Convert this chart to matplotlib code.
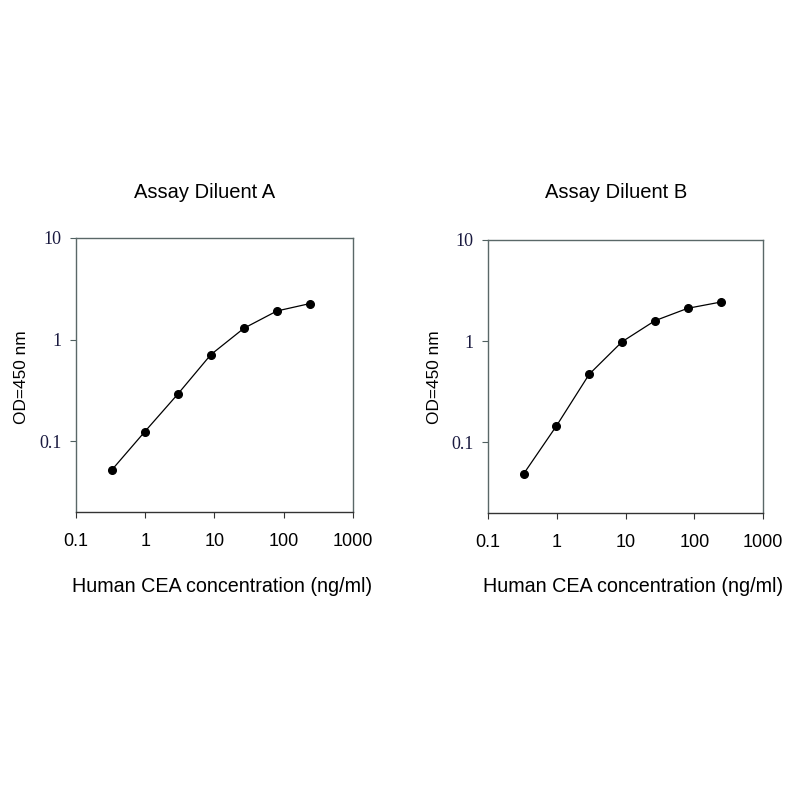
import matplotlib
matplotlib.use("Agg")
import matplotlib.pyplot as plt

conc = [0.33, 0.99, 2.96, 8.89, 26.67, 80, 240]
od_a = [0.052, 0.124, 0.29, 0.71, 1.29, 1.91, 2.26]
od_b = [0.0486, 0.145, 0.47, 0.985, 1.59, 2.11, 2.43]
x_ticks = [0.1, 1, 10, 100, 1000]
x_ticklabels = ["0.1", "1", "10", "100", "1000"]
y_ticks = [0.1, 1, 10]
y_ticklabels = ["0.1", "1", "10"]
titles = ["Assay Diluent A", "Assay Diluent B"]
xlabel = "Human CEA concentration (ng/ml)"
ylabel = "OD=450 nm"

fig = plt.figure(figsize=(8, 8), dpi=100)
sans = "Liberation Sans"
serif = "Liberation Serif"

rects = [[0.095, 0.36, 0.346, 0.3425], [0.61, 0.359, 0.344, 0.341]]
title_x = [205 / 800, 616 / 800]
xlabel_x = [222 / 800, 633 / 800]
ylabel_x = [22 / 800, 435 / 800]

for i, (rect, od) in enumerate(zip(rects, [od_a, od_b])):
    ax = fig.add_axes(rect)
    ax.plot(conc, od, color="black", lw=0.9, marker="o", ms=5.5,
            markerfacecolor="black", markeredgecolor="black")
    ax.set_xscale("log")
    ax.set_yscale("log")
    ax.set_xlim(0.1, 1000)
    ax.set_ylim(0.02, 10)
    ax.minorticks_off()
    ax.set_xticks(x_ticks)
    ax.set_xticklabels(x_ticklabels, fontfamily=sans, fontsize=13)
    ax.set_yticks(y_ticks)
    ax.set_yticklabels(y_ticklabels, fontfamily=serif, fontsize=13, color="#1a1a40")
    ax.tick_params(axis="x", direction="out", length=4, width=0.8, pad=11, color="#333333")
    ax.tick_params(axis="y", direction="out", length=4, width=0.8, pad=6.5, color="#506060")
    for side in ["left", "top", "right"]:
        ax.spines[side].set_color("#5a6868")
        ax.spines[side].set_linewidth(1.0)
    ax.spines["bottom"].set_color("#333333")
    ax.spines["bottom"].set_linewidth(1.0)
    fig.text(title_x[i], 1 - 192 / 800, titles[i], ha="center", va="center",
             fontfamily=sans, fontsize=14.5)
    fig.text(xlabel_x[i], 1 - 587 / 800, xlabel, ha="center", va="center",
             fontfamily=sans, fontsize=14.2)
    fig.text(ylabel_x[i], 1 - 377 / 800, ylabel, ha="center", va="center",
             rotation=90, fontfamily=sans, fontsize=12.4)

fig.savefig("out.png", dpi=100, facecolor="white")
